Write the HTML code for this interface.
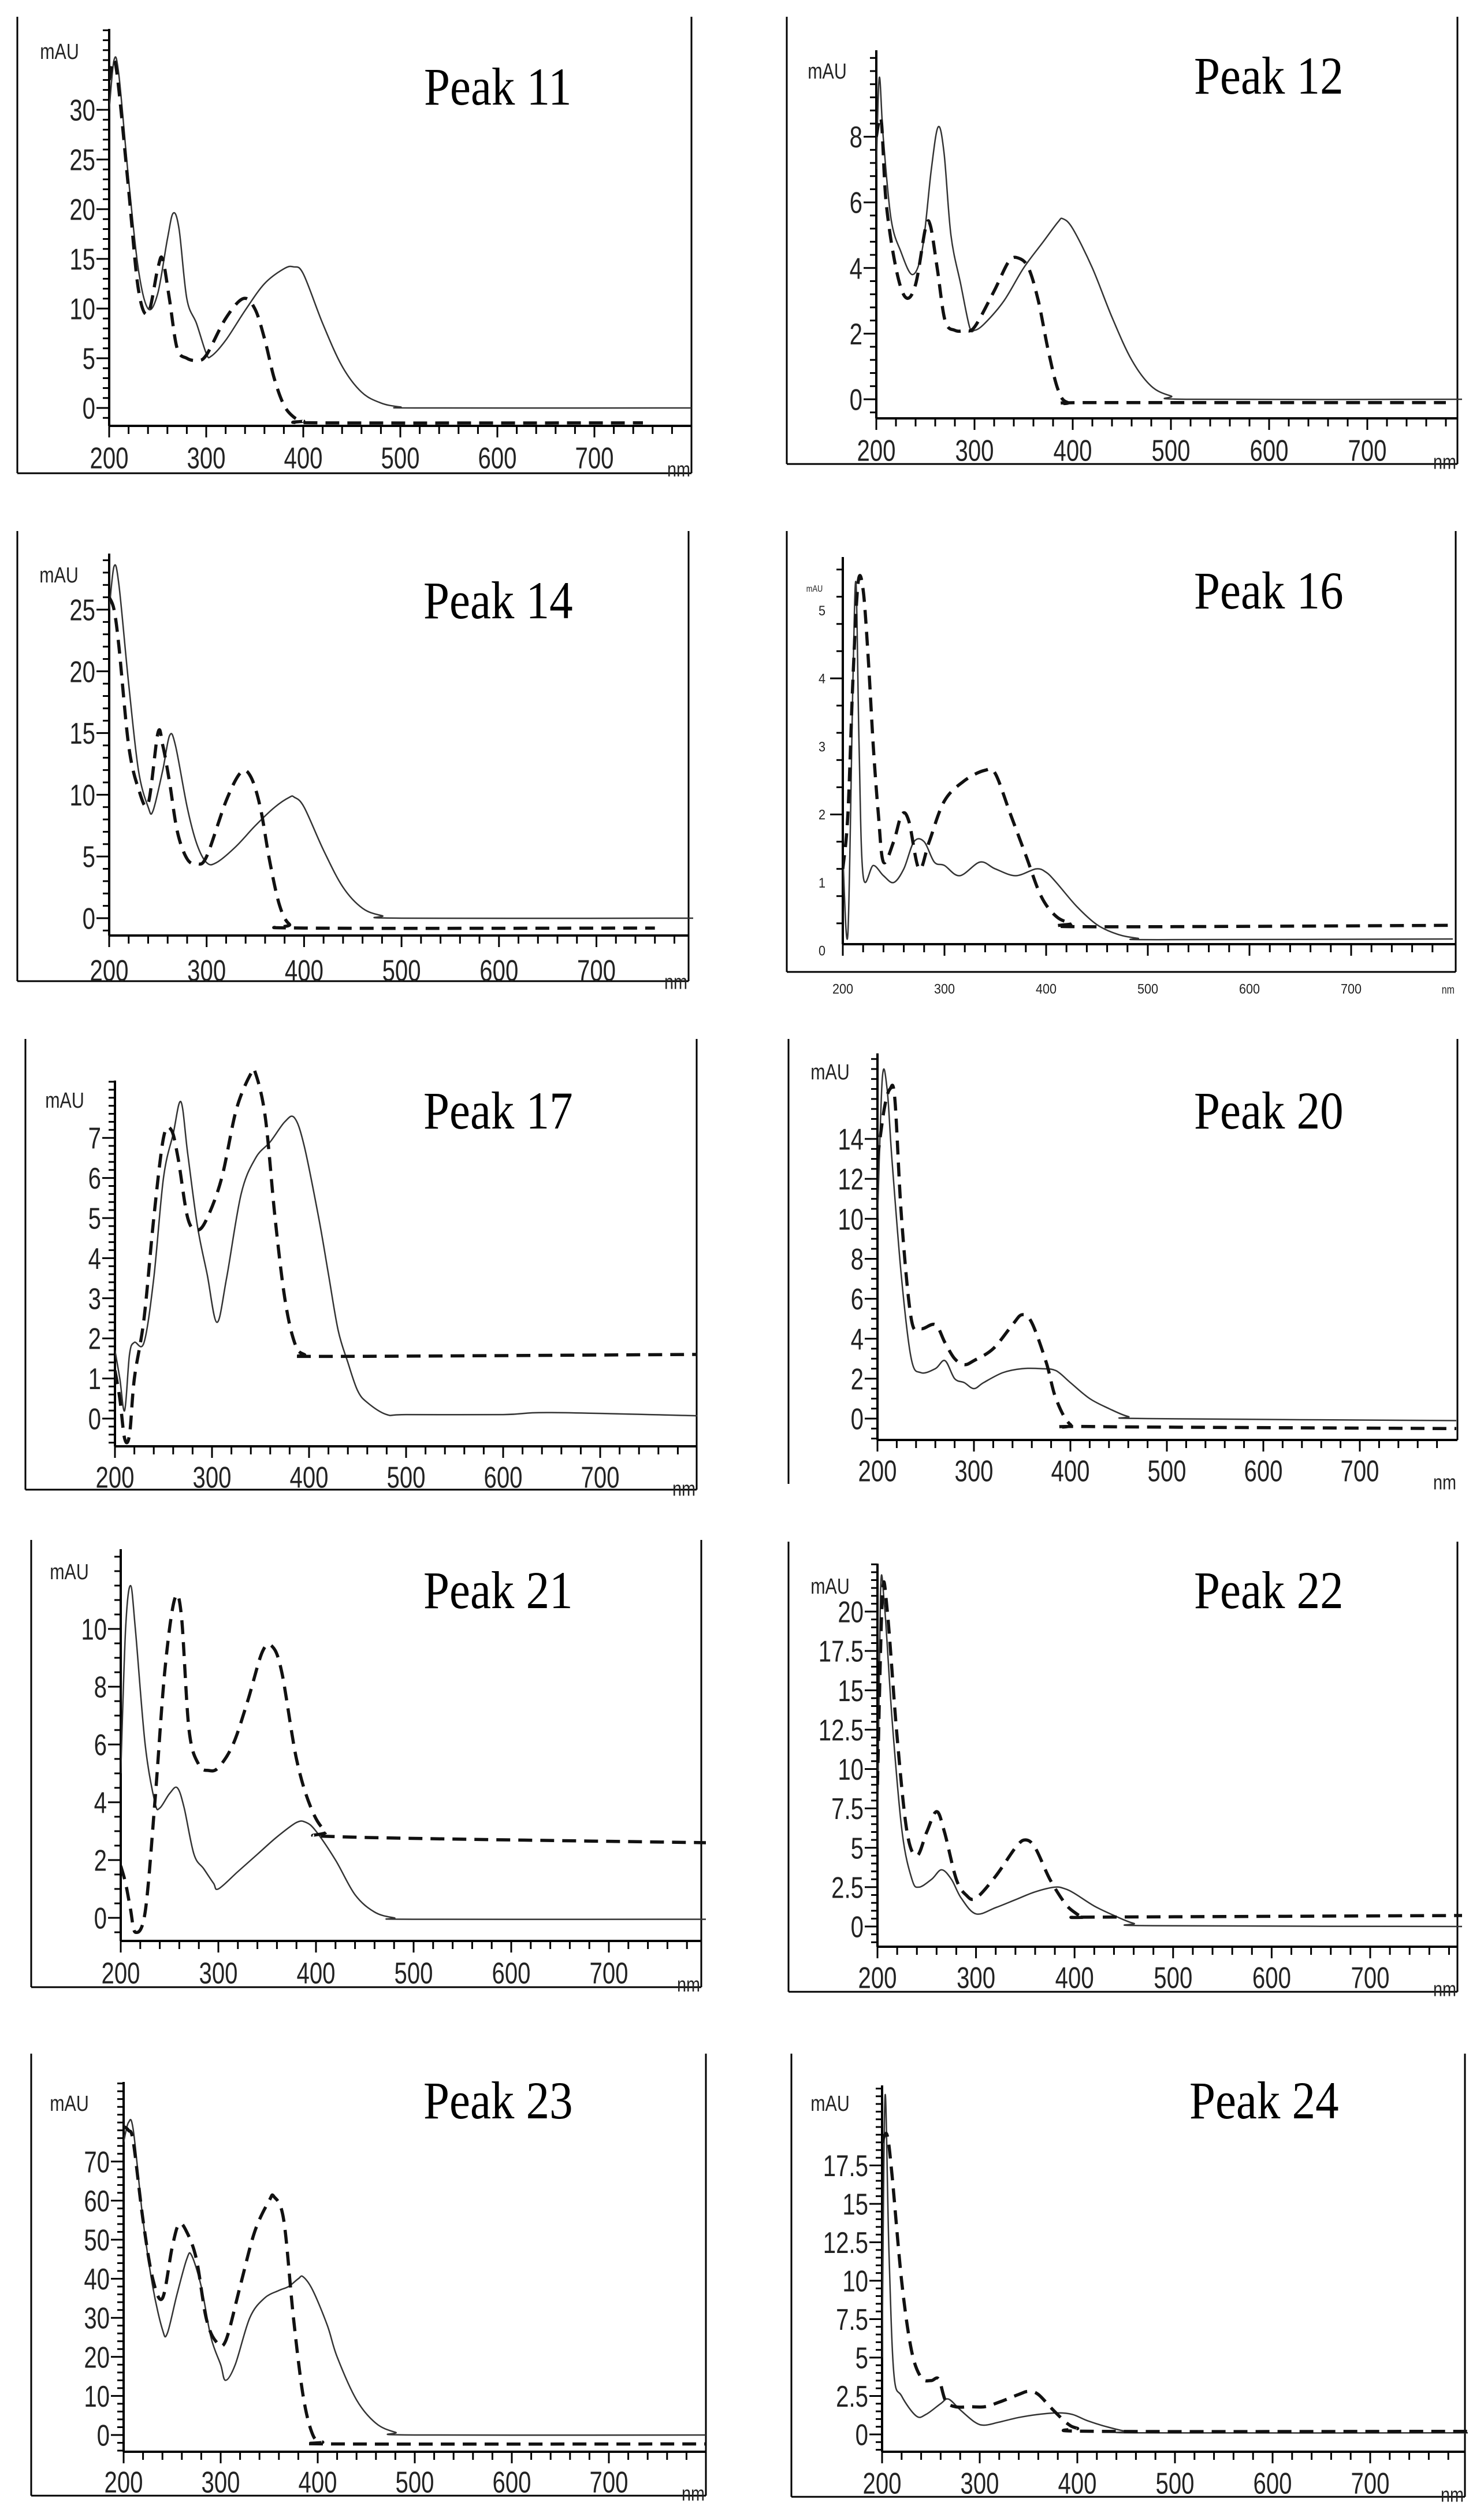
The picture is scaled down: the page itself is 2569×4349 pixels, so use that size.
<!DOCTYPE html>
<html><head><meta charset="utf-8"><style>
html,body{margin:0;padding:0;background:#fff;}
svg{display:block;}
</style></head><body>
<svg id="fig" width="2569" height="4349" viewBox="0 0 2569 4349" xmlns="http://www.w3.org/2000/svg"></svg>
<script>
// ---- data: [wavelength nm, absorbance mAU] ----
const p11Solid=[[200,30],[205,35],[210,33.5],[220,23],[230,14],[240,10],[250,11.5],[260,17],[266,19.6],[272,18],[280,11],[290,8.5],[300,5.5],[305,5.2],[320,6.8],[340,9.8],[360,12.5],[380,14],[390,14.2],[400,13.5],[420,8.5],[440,4.2],[460,1.6],[480,0.5],[500,0.1],[520,0],[800,0]];
const p11Dashed=[[200,33],[205,35],[210,32],[220,22],[230,12],[240,9.5],[250,14],[255,15],[262,11],[270,6],[280,5],[290,4.8],[300,5.3],[320,9],[338,11],[350,10],[360,7],[370,3],[380,0.3],[390,-0.9],[400,-1.3],[420,-1.5],[750,-1.5]];
const p11Ticks=[0,5,10,15,20,25,30];

const p12Solid=[[200,7],[203,9.8],[207,8],[215,5.5],[225,4.5],[237,3.8],[247,4.6],[256,7],[263,8.3],[269,7.5],[276,5],[286,3.5],[295,2.2],[300,2.1],[310,2.3],[330,3],[350,4],[370,4.8],[385,5.4],[390,5.5],[400,5.2],[420,4],[440,2.5],[460,1.2],[480,0.4],[500,0.1],[520,0],[800,0]];
const p12Dashed=[[200,8],[205,8.5],[210,6],[220,4],[230,3.1],[240,3.5],[250,5.2],[255,5.3],[262,4],[270,2.4],[280,2.1],[290,2.1],[300,2.2],[320,3.3],[335,4.2],[345,4.3],[355,4],[365,3],[375,1.5],[385,0.3],[395,-0.1],[420,-0.1],[780,-0.1]];
const p12Ticks=[0,2,4,6,8];

const p14Solid=[[200,25],[205,28.5],[210,27],[220,19],[230,12],[240,9],[245,8.7],[255,12],[262,14.8],[268,14],[280,9],[290,6],[300,4.5],[310,4.5],[330,5.8],[350,7.5],[370,9],[385,9.8],[390,9.8],[400,9],[420,5.5],[440,2.5],[460,0.8],[480,0.2],[500,0],[800,0]];
const p14Dashed=[[200,26],[205,25],[210,22],[220,14],[230,10.5],[240,9.3],[250,15],[255,14],[262,11],[270,7],[280,4.8],[290,4.4],[300,5],[320,9.5],[335,11.8],[345,11.5],[355,9],[365,4.5],[375,1],[385,-0.5],[400,-0.8],[760,-0.8]];
const p14Ticks=[0,5,10,15,20,25];

const p16Solid=[[200,1.4],[205,0.25],[210,4],[213,5.4],[216,3],[220,1.1],[230,1.25],[240,1.1],[250,1.0],[260,1.2],[270,1.6],[280,1.6],[290,1.3],[300,1.25],[315,1.1],[335,1.3],[350,1.2],[370,1.1],[390,1.2],[400,1.15],[410,1.0],[430,0.65],[450,0.38],[470,0.24],[490,0.18],[510,0.16],[800,0.17]];
const p16Dashed=[[200,1.2],[205,2],[210,4],[215,5.4],[220,5.3],[225,4.3],[230,3],[235,2],[240,1.3],[250,1.6],[258,2.0],[265,1.9],[275,1.2],[285,1.6],[300,2.2],[320,2.5],[340,2.65],[350,2.6],[365,2],[380,1.4],[395,0.8],[410,0.5],[425,0.4],[440,0.35],[800,0.37]];
const p16Ticks=[0,1,2,3,4,5];

const p17Solid=[[200,1.7],[205,1.0],[210,0.2],[215,1.6],[220,1.9],[230,1.9],[240,3.5],[250,6],[260,7.1],[268,7.9],[275,6.6],[285,4.8],[295,3.6],[305,2.4],[315,3.5],[330,5.6],[345,6.5],[360,6.9],[375,7.4],[385,7.5],[395,6.8],[410,5],[420,3.6],[430,2.2],[440,1.4],[450,0.7],[460,0.4],[480,0.1],[500,0.1],[600,0.1],[650,0.15],[800,0.07]];
const p17Dashed=[[200,1.2],[205,0.5],[210,-0.5],[215,-0.4],[220,1],[230,2.5],[240,5],[250,7],[258,7.2],[265,6.5],[275,5],[285,4.7],[295,5],[310,6],[325,7.7],[340,8.6],[345,8.6],[355,7.5],[365,5],[375,3],[385,1.9],[395,1.6],[420,1.55],[800,1.6]];
const p17Ticks=[0,1,2,3,4,5,6,7];

const p20Solid=[[200,10],[205,17],[210,16.5],[215,13],[225,7],[235,3],[245,2.3],[260,2.5],[270,2.9],[280,2.0],[290,1.8],[300,1.5],[310,1.8],[330,2.3],[350,2.5],[370,2.5],[385,2.4],[400,1.8],[420,1],[440,0.5],[460,0.1],[480,0],[800,-0.1]];
const p20Dashed=[[200,13],[207,15.5],[213,16.5],[218,16],[225,10],[235,5],[245,4.5],[260,4.7],[270,3.8],[280,3],[290,2.7],[300,2.9],[320,3.5],[340,4.7],[350,5.2],[360,4.8],[375,2.8],[385,1],[400,-0.3],[420,-0.4],[800,-0.5]];
const p20Ticks=[0,2,4,6,8,10,12,14];

const p21Solid=[[200,5],[205,10],[210,11.5],[215,10],[225,6],[235,4],[240,3.8],[250,4.3],[258,4.5],[265,3.8],[275,2.2],[285,1.7],[295,1.2],[300,1.0],[320,1.6],[340,2.2],[360,2.8],[380,3.3],[390,3.3],[400,3.0],[420,2.0],[440,0.8],[460,0.2],[480,0.0],[500,-0.05],[800,-0.05]];
const p21Dashed=[[200,1.8],[205,1.2],[210,0.3],[215,-0.5],[225,0.2],[235,4],[245,8.5],[255,11],[262,10.5],[270,6.5],[280,5.3],[290,5.1],[300,5.2],[315,6],[330,7.5],[345,9.2],[355,9.4],[365,8.5],[380,5.5],[395,3.8],[410,3.0],[430,2.8],[800,2.6]];
const p21Ticks=[0,2,4,6,8,10];

const p22Solid=[[200,5],[203,21],[207,20.5],[215,13],[225,6],[235,3],[242,2.5],[255,3],[265,3.6],[275,3],[285,1.8],[300,0.8],[320,1.2],[340,1.7],[360,2.2],[380,2.5],[390,2.4],[400,2.1],[420,1.3],[440,0.7],[460,0.2],[480,0.05],[800,0]];
const p22Dashed=[[200,9],[205,21],[210,20],[220,12],[230,6],[240,4.5],[250,6],[260,7.3],[268,6],[280,3],[290,2],[300,1.8],[320,3.2],[340,5],[350,5.5],[360,5],[375,3],[390,1.5],[400,0.9],[410,0.6],[430,0.6],[800,0.7]];
const p22Ticks=[0,2.5,5,7.5,10,12.5,15,17.5,20];

const p23Solid=[[200,75],[205,80],[210,78],[220,55],[230,38],[240,27],[245,26],[255,36],[265,45],[270,46],[280,38],[290,25],[300,18],[305,14],[315,18],[330,30],[345,35],[360,37],[370,38],[380,40],[385,40.5],[395,37],[410,28],[420,20],[440,9],[460,3],[480,0.7],[500,0],[800,0]];
const p23Dashed=[[200,79],[205,78],[210,75],[220,55],[230,40],[240,35],[250,48],[257,54],[265,52],[275,45],[285,30],[295,24],[305,24],[320,38],[335,52],[350,60],[355,61],[365,55],[375,30],[385,10],[395,0],[405,-1.8],[420,-2.3],[800,-2.3]];
const p23Ticks=[0,10,20,30,40,50,60,70];

const p24Solid=[[200,5],[203,22],[207,12],[212,4],[220,2.5],[235,1.2],[245,1.3],[260,2],[268,2.3],[280,1.6],[295,0.8],[305,0.6],[320,0.8],[340,1.1],[360,1.3],[380,1.4],[395,1.3],[410,0.9],[430,0.5],[450,0.2],[470,0.1],[800,0.1]];
const p24Dashed=[[200,19],[205,19.5],[210,17],[220,10],[230,5.5],[240,3.7],[250,3.5],[258,3.6],[265,2.2],[275,1.8],[290,1.8],[305,1.8],[320,2.1],[340,2.6],[350,2.8],[360,2.6],[375,1.6],[390,0.7],[400,0.4],[420,0.2],[800,0.2]];
const p24Ticks=[0,2.5,5,7.5,10,12.5,15,17.5];

const xTickLabels=[200,300,400,500,600,700];

// ---- layout ----
const panels=[
 {id:'peak-11',title:'Peak 11',solid:p11Solid,dashed:p11Dashed,ticks:p11Ticks,minor:1,fl:30,fr:1197,ft:29,fb:819,ax:189,ppn:1.68,ay:737,y0:706,ppu:17.2,atop:50,tx:734,ty:181,mx:103,my:89,ly:792,fs:46},
 {id:'peak-12',title:'Peak 12',solid:p12Solid,dashed:p12Dashed,ticks:p12Ticks,minor:0.4,fl:1362,fr:2523,ft:29,fb:803,ax:1517,ppn:1.70,ay:724,y0:691,ppu:56.8,atop:87,tx:2067,ty:162,mx:1432,my:123,ly:779,fs:46},
 {id:'peak-14',title:'Peak 14',solid:p14Solid,dashed:p14Dashed,ticks:p14Ticks,minor:1,fl:30,fr:1192,ft:919,fb:1698,ax:189,ppn:1.687,ay:1619,y0:1589,ppu:21.36,atop:958,tx:733,ty:1070,mx:102,my:995,ly:1679,fs:46},
 {id:'peak-16',title:'Peak 16',solid:p16Solid,dashed:p16Dashed,ticks:p16Ticks,minor:0.4,fl:1362,fr:2520,ft:919,fb:1682,ax:1459,ppn:1.76,ay:1634,y0:1645,ppu:117.75,atop:964,tx:2067,ty:1053,mx:1410,my:1018,ly:1711,fs:24,small:true},
 {id:'peak-17',title:'Peak 17',solid:p17Solid,dashed:p17Dashed,ticks:p17Ticks,minor:0.2,fl:44,fr:1206,ft:1798,fb:2578,ax:199,ppn:1.68,ay:2503,y0:2455,ppu:69.4,atop:1870,tx:733,ty:1953,mx:112,my:1904,ly:2556,fs:46},
 {id:'peak-20',title:'Peak 20',solid:p20Solid,dashed:p20Dashed,ticks:p20Ticks,minor:0.5,fl:1365,fr:2523,ft:1798,fb:null,lb:2568,ax:1519,ppn:1.67,ay:2492,y0:2455,ppu:34.57,atop:1823,tx:2067,ty:1953,mx:1437,my:1855,ly:2545,fs:46},
 {id:'peak-21',title:'Peak 21',solid:p21Solid,dashed:p21Dashed,ticks:p21Ticks,minor:0.5,fl:54,fr:1214,ft:2665,fb:3439,ax:209,ppn:1.69,ay:3359,y0:3319,ppu:50,atop:2681,tx:733,ty:2783,mx:120,my:2720,ly:3414,fs:46},
 {id:'peak-22',title:'Peak 22',solid:p22Solid,dashed:p22Dashed,ticks:p22Ticks,minor:0.5,fl:1365,fr:2523,ft:2668,fb:3447,ax:1519,ppn:1.706,ay:3369,y0:3334,ppu:27.25,atop:2706,tx:2067,ty:2783,mx:1437,my:2745,ly:3422,fs:46},
 {id:'peak-23',title:'Peak 23',solid:p23Solid,dashed:p23Dashed,ticks:p23Ticks,minor:2,fl:54,fr:1222,ft:3554,fb:4319,ax:214,ppn:1.68,ay:4243,y0:4214,ppu:6.76,atop:3603,tx:733,ty:3666,mx:120,my:3640,ly:4295,fs:46},
 {id:'peak-24',title:'Peak 24',solid:p24Solid,dashed:p24Dashed,ticks:p24Ticks,minor:0.5,fl:1370,fr:2536,ft:3554,fb:4321,ax:1527,ppn:1.69,ay:4243,y0:4213,ppu:26.6,atop:3609,tx:2059,ty:3666,mx:1437,my:3640,ly:4297,fs:46}
];

const NS='http://www.w3.org/2000/svg';
const svg=document.getElementById('fig');
function mk(tag,attrs,parent){const e=document.createElementNS(NS,tag);for(const k in attrs)e.setAttribute(k,attrs[k]);parent.appendChild(e);return e;}
function ctext(parent,x,y,size,anchor,str,sx){
  const t=mk('text',{x:0,y:0,transform:'translate('+x.toFixed(1)+','+y.toFixed(1)+') scale('+sx+',1)','text-anchor':anchor,'font-family':'"Liberation Sans",sans-serif','font-size':size,fill:'#222'},parent);
  t.textContent=str;return t;
}
function smoothPath(pts){
  let d='M'+pts[0][0].toFixed(1)+','+pts[0][1].toFixed(1);
  for(let i=0;i<pts.length-1;i++){
    const p0=pts[Math.max(0,i-1)],p1=pts[i],p2=pts[i+1],p3=pts[Math.min(pts.length-1,i+2)];
    const c1x=p1[0]+(p2[0]-p0[0])/6,c1y=p1[1]+(p2[1]-p0[1])/6;
    const c2x=p2[0]-(p3[0]-p1[0])/6,c2y=p2[1]-(p3[1]-p1[1])/6;
    d+=' C'+c1x.toFixed(1)+','+c1y.toFixed(1)+' '+c2x.toFixed(1)+','+c2y.toFixed(1)+' '+p2[0].toFixed(1)+','+p2[1].toFixed(1);
  }
  return d;
}

panels.forEach(p=>{
  const xs=nm=>p.ax+(nm-200)*p.ppn;
  const ys=v=>p.y0-v*p.ppu;
  const fsz=p.small?p.fs:p.fs*1.12;
  const g=mk('g',{},svg);
  
  
  const fr=mk('g',{stroke:'#000','stroke-width':3,fill:'none'},g);
  
  
  mk('line',{x1:p.fl,y1:p.ft,x2:p.fl,y2:p.fb||p.lb},fr);
  mk('line',{x1:p.fr,y1:p.ft,x2:p.fr,y2:p.fb||p.ay},fr);
  if(p.fb) mk('line',{x1:p.fl,y1:p.fb,x2:p.fr,y2:p.fb},fr);
  const ya=mk('g',{stroke:'#000',fill:'none'},g);
  
  
  mk('line',{x1:p.ax,y1:p.atop,x2:p.ax,y2:p.ay,'stroke-width':4},ya);
  const vTop=(p.y0-p.atop)/p.ppu, vBot=(p.y0-p.ay)/p.ppu;
  const n0=Math.ceil(vBot/p.minor-1e-6), n1=Math.floor(vTop/p.minor+1e-6);
  for(let n=n0;n<=n1;n++){
    const v=n*p.minor;const y=ys(v);
    const isMaj=p.ticks.some(t=>Math.abs(t-v)<1e-6);
    mk('line',{x1:p.ax-(isMaj?22:11),y1:y,x2:p.ax,y2:y,'stroke-width':3},ya);
  }
  p.ticks.forEach(t=>{
    const tx=ctext(g,p.ax-(p.small?30:24),ys(t)+fsz*0.36,fsz,'end',String(t),p.small?0.9:0.78);
    
    
  });
  const mau=ctext(g,p.mx,p.my+(p.small?6:13),p.small?16:38,'middle','mAU',0.8);
  
  
  const xa=mk('g',{stroke:'#000',fill:'none'},g);
  
  
  mk('line',{x1:p.ax,y1:p.ay,x2:p.fr,y2:p.ay,'stroke-width':4},xa);
  for(let nm=200;nm<800;nm+=20){
    const x=xs(nm);
    mk('line',{x1:x,y1:p.ay,x2:x,y2:p.ay+(nm%100===0?20:14),'stroke-width':3},xa);
  }
  xTickLabels.forEach(nm=>{
    const t=ctext(g,xs(nm),p.ly+fsz*0.36,fsz,'middle',String(nm),p.small?0.9:0.78);
    
    
  });
  const nmL=ctext(g,p.fr-2,p.ly+fsz*0.36+(p.small?0:14),p.small?20:36,'end','nm',0.8);
  
  
  const ti=mk('text',{x:0,y:0,transform:'translate('+p.tx+','+p.ty+') scale(0.92,1.05)','font-family':'"Liberation Serif",serif','font-size':88,fill:'#000'},g);
  ti.textContent=p.title;
  
  
  const cid='clip-'+p.id;
  const cp=mk('clipPath',{id:cid},g);
  mk('rect',{x:p.ax,y:p.atop-40,width:p.fr-p.ax+8,height:p.ay-p.atop+40},cp);
  const sp=mk('path',{d:smoothPath(p.solid.map(d=>[xs(d[0]),ys(d[1])])),fill:'none',stroke:'#333','stroke-width':2.5,'clip-path':'url(#'+cid+')'},g);
  
  
  const dp=mk('path',{d:smoothPath(p.dashed.map(d=>[xs(d[0]),ys(d[1])])),fill:'none',stroke:'#111','stroke-width':5.5,'stroke-dasharray':'24,14','clip-path':'url(#'+cid+')'},g);
  
  
});
</script>
</body></html>
